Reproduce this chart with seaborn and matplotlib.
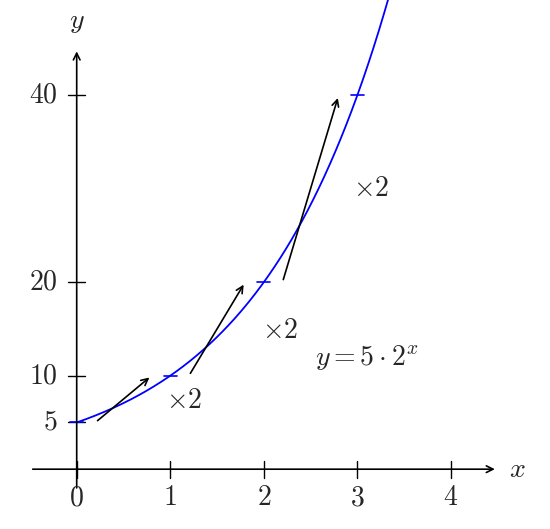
import numpy as np
import pandas as pd
import seaborn as sns
import matplotlib
matplotlib.use("Agg")
import matplotlib.pyplot as plt

sns.set_theme(style="white")
plt.rcParams['mathtext.fontset'] = 'cm'
plt.rcParams['font.family'] = ['DejaVu Serif']

x_ticks = [0, 1, 2, 3, 4]
y_ticks = [5, 10, 20, 40]
mark_x = [0, 1, 2, 3]
mark_y = [5, 10, 20, 40]
arrow_start = [(0.2, 5), (1.2, 10), (2.2, 20)]
arrow_end = [(0.8, 10), (1.8, 20), (2.8, 40)]
times_labels = ["×2", "×2", "×2"]
times_pos = [(1.15, 7.4), (2.17, 14.8), (3.15, 30)]

fig = plt.figure(figsize=(5.5, 5.29), dpi=100)
ax = fig.add_axes([0, 0, 1, 1])
ax.set_xlim(-0.82, 5.06)
ax.set_ylim(-6.4, 50.2)
ax.axis('off')

xs = np.linspace(-0.0, 3.5, 300)
df = pd.DataFrame({"x": xs, "y": 5 * 2 ** xs})
sns.lineplot(data=df, x="x", y="y", ax=ax, color="blue", lw=1.3, legend=False)

fs = 20
ax.annotate("", xy=(4.5, 0), xytext=(-0.5, 0),
            arrowprops=dict(arrowstyle="->", color="black", lw=1.2))
ax.annotate("", xy=(0, 45), xytext=(0, -2.3),
            arrowprops=dict(arrowstyle="->", color="black", lw=1.2))
ax.text(4.62, 0, "$x$", fontsize=fs, va="center", ha="left")
ax.text(0, 46.5, "$y$", fontsize=fs, va="bottom", ha="center")

for t in x_ticks:
    ax.plot([t, t], [-0.9, 0.9], color="black", lw=1)
    ax.text(t, -1.6, f"${t}$", fontsize=fs, ha="center", va="top")
for t in y_ticks:
    ax.plot([-0.09, 0.09], [t, t], color="black", lw=1)
    ax.text(-0.2, t, f"${t}$", fontsize=fs, ha="right", va="center")
for mx, my in zip(mark_x, mark_y):
    ax.plot([mx - 0.07, mx + 0.07], [my, my], color="blue", lw=1.2)

for s, e in zip(arrow_start, arrow_end):
    ax.annotate("", xy=e, xytext=s,
                arrowprops=dict(arrowstyle="->", color="black", lw=1.2))
for lab, (px, py) in zip(times_labels, times_pos):
    ax.text(px, py, r"$\times 2$", fontsize=fs, ha="center", va="center")

ax.text(3.1, 12, r"$y = 5 \cdot 2^x$", fontsize=fs, ha="center", va="center")

fig.savefig("out.png", dpi=100)
